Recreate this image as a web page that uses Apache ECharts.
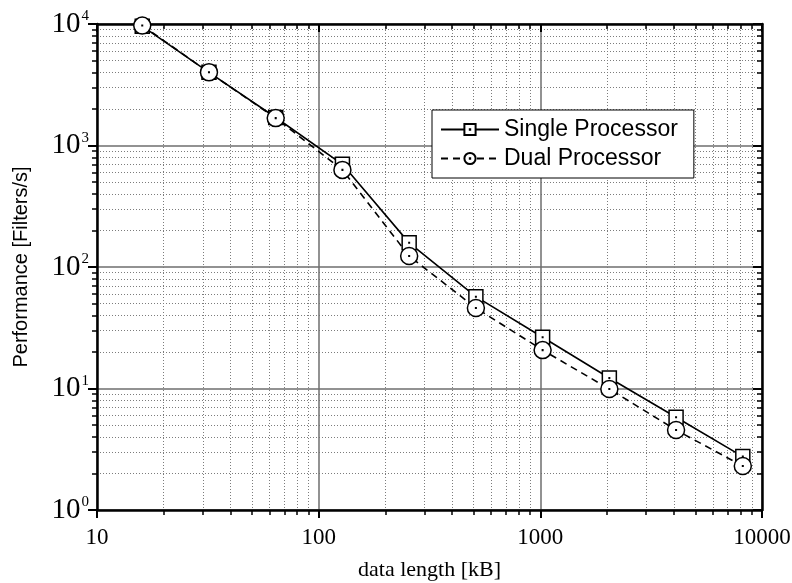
<!DOCTYPE html>
<html>
<head>
<meta charset="utf-8">
<script src="https://cdn.jsdelivr.net/npm/echarts@6/dist/echarts.min.js"></script>
<style>
  html, body { margin: 0; padding: 0; background: #fff; }
  #main { width: 792px; height: 583px; }
</style>
</head>
<body>
<div id="main"></div>
<script>
// data length in kB
var dataLength = [16, 32, 64, 128, 256, 512, 1024, 2048, 4096, 8192];
// performance in filters per second
var singleProc = [9600, 4000, 1700, 700, 158, 57, 26.4, 12.2, 5.8, 2.75];
var dualProc = [9700, 4000, 1680, 630, 123, 46, 20.7, 9.9, 4.55, 2.3];
var xTicks = [10, 100, 1000, 10000];
var yTicks = [1, 10, 100, 1000, 10000];

var serif = '"Liberation Serif", "DejaVu Serif", serif';
var sans = '"Liberation Sans", Arial, sans-serif';

function pairs(xs, ys) {
    return xs.map(function (x, i) { return [x, ys[i]]; });
}

// open markers with a small dot in the middle
var squareSym = 'path://M0,0L14,0L14,14L0,14Z M6.75,6.75L7.25,6.75L7.25,7.25L6.75,7.25Z';
var circleSym = 'path://M0,8A8,8,0,1,1,16,8A8,8,0,1,1,0,8Z M7.75,7.75L8.25,7.75L8.25,8.25L7.75,8.25Z';

var myChart = echarts.init(document.getElementById('main'));

var axisLineStyle = { color: '#000', width: 2.5 };

var option = {
    animation: false,
    backgroundColor: '#fff',
    grid: {
        left: 97,
        right: 30,
        top: 24,
        bottom: 73,
        containLabel: false,
        outerBoundsMode: 'none'
    },
    legend: {
        orient: 'vertical',
        left: 432,
        top: 110,
        padding: [8, 16, 8, 8],
        itemGap: 6,
        itemWidth: 58,
        itemHeight: 14,
        backgroundColor: '#fff',
        borderColor: '#000',
        borderWidth: 1,
        textStyle: { fontFamily: sans, fontSize: 23, color: '#000' },
        data: ['Single Processor', 'Dual Processor']
    },
    xAxis: [{
        type: 'log',
        logBase: 10,
        min: xTicks[0],
        max: xTicks[xTicks.length - 1],
        position: 'bottom',
        name: 'data length [kB]',
        nameLocation: 'middle',
        nameGap: 49,
        nameTextStyle: { fontFamily: serif, fontSize: 22, color: '#000' },
        axisLine: { lineStyle: axisLineStyle },
        axisTick: { show: true, length: 8, lineStyle: { color: '#000', width: 2 } },
        minorTick: { show: true, splitNumber: 9, length: 5, lineStyle: { color: '#000', width: 1.5 } },
        axisLabel: {
            fontFamily: serif, fontSize: 23, color: '#000', margin: 16,
            formatter: function (v) { return String(Math.round(v)); }
        },
        splitLine: { show: true, lineStyle: { color: '#6e6e6e', width: 1.5 } },
        minorSplitLine: { show: true, lineStyle: { color: '#7c7c7c', width: 1, type: [1, 2] } }
    }, {
        type: 'log',
        logBase: 10,
        min: xTicks[0],
        max: xTicks[xTicks.length - 1],
        position: 'top',
        axisLine: { lineStyle: axisLineStyle },
        axisTick: { show: true, inside: true, length: 8, lineStyle: { color: '#000', width: 2 } },
        minorTick: { show: true, splitNumber: 9, length: 5, lineStyle: { color: '#000', width: 1.5 } },
        axisLabel: { show: false },
        splitLine: { show: false }
    }],
    yAxis: [{
        type: 'log',
        logBase: 10,
        min: yTicks[0],
        max: yTicks[yTicks.length - 1],
        position: 'left',
        name: 'Performance [Filters/s]',
        nameLocation: 'middle',
        nameGap: 66,
        nameTextStyle: { fontFamily: sans, fontSize: 20, color: '#000' },
        axisLine: { lineStyle: axisLineStyle },
        axisTick: { show: true, length: 9, lineStyle: { color: '#000', width: 2 } },
        minorTick: { show: true, splitNumber: 9, length: 5, lineStyle: { color: '#000', width: 1.5 } },
        axisLabel: {
            margin: 8,
            formatter: function (v) {
                return '{b|10}{s|' + Math.round(Math.log10(v)) + '}';
            },
            rich: {
                b: { fontFamily: serif, fontSize: 29, color: '#000' },
                s: { fontFamily: serif, fontSize: 15, color: '#000', verticalAlign: 'bottom', padding: [0, 0, 15, 1] }
            }
        },
        splitLine: { show: true, lineStyle: { color: '#6e6e6e', width: 1.5 } },
        minorSplitLine: { show: true, lineStyle: { color: '#7c7c7c', width: 1, type: [1, 2] } }
    }, {
        type: 'log',
        logBase: 10,
        min: yTicks[0],
        max: yTicks[yTicks.length - 1],
        position: 'right',
        axisLine: { lineStyle: axisLineStyle },
        axisTick: { show: true, inside: true, length: 9, lineStyle: { color: '#000', width: 2 } },
        minorTick: { show: true, splitNumber: 9, length: 5, lineStyle: { color: '#000', width: 1.5 } },
        axisLabel: { show: false },
        splitLine: { show: false }
    }],
    series: [{
        name: 'Single Processor',
        type: 'line',
        data: pairs(dataLength, singleProc),
        symbol: squareSym,
        symbolSize: 14,
        showAllSymbol: true,
        lineStyle: { color: '#000', width: 1.6, type: 'solid' },
        itemStyle: { color: '#fff', borderColor: '#000', borderWidth: 1.5 },
        z: 3
    }, {
        name: 'Dual Processor',
        type: 'line',
        data: pairs(dataLength, dualProc),
        symbol: circleSym,
        symbolSize: 17,
        showAllSymbol: true,
        lineStyle: { color: '#000', width: 1.6, type: [7, 5] },
        itemStyle: { color: '#fff', borderColor: '#000', borderWidth: 1.5 },
        z: 4
    }]
};

myChart.setOption(option);
window.addEventListener('resize', function () {
    myChart.resize();
});
</script>
</body>
</html>
